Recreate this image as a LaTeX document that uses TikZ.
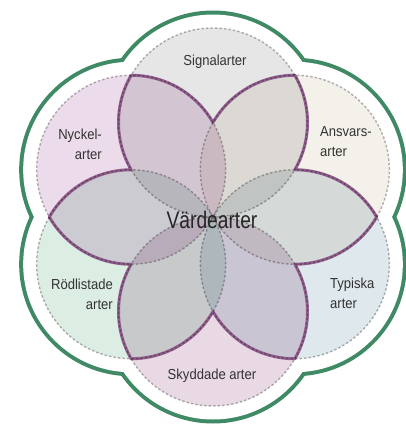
\documentclass[tikz,border=0pt]{standalone}
\usepackage{fontspec}
\setmainfont{Liberation Sans}[FakeStretch=0.9]
\newfontfamily\bigfont{Liberation Sans}[FakeStretch=0.8]
\definecolor{sigGray}{HTML}{E6E6E6}
\definecolor{ansBeige}{HTML}{F4F0EA}
\definecolor{typBlue}{HTML}{DFE8EC}
\definecolor{skyPink}{HTML}{E8D9E4}
\definecolor{rodMint}{HTML}{DCEDE4}
\definecolor{nycPink}{HTML}{ECDBEA}
\definecolor{rimGreen}{HTML}{3F8A65}
\definecolor{petalLine}{HTML}{93618F}
\definecolor{dashGray}{HTML}{B4B4B4}
\definecolor{txtGray}{HTML}{333333}
\begin{document}
\begin{tikzpicture}[x=1pt,y=1pt,
  ring/.style={dashGray, line width=1.4pt, dash pattern=on 2.5pt off 2pt, blend mode=multiply},
  lbl/.style={font=\fontsize{14.5}{20}\selectfont, text=txtGray, inner sep=0pt}]
  \def\d{94.5}
  \useasboundingbox (-213,-207) rectangle (193,217);
  \fill[white] (-213,-207) rectangle (193,217);
  % Green rim round the six circles
  \foreach \a in {90,30,...,-210} \fill[rimGreen] (\a:\d) circle (112);
  \foreach \a in {90,30,...,-210} \fill[white] (\a:\d) circle (108);
  % Six pale circles
  \foreach \a/\c in {90/sigGray,30/ansBeige,-30/typBlue,-90/skyPink,-150/rodMint,150/nycPink}
    \fill[\c, blend mode=multiply] (\a:\d) circle (\d);
  % Petal outline
  \draw[petalLine, line width=3pt, line join=round] (0:163.68)
    \foreach \a in {0,60,...,300} {
      arc[start angle=\a+30, end angle=\a+90, radius=\d]
      arc[start angle=\a-30, end angle=\a+30, radius=\d]
    } -- cycle;
  % Dashed circle outlines
  \foreach \a in {90,30,...,-210} \draw[ring] (\a:\d) circle (\d);
  % Labels
  \node[lbl] (signal) at (2,155) {Signalarter};
  \node[lbl, align=right, anchor=east] (nyckel) at (-111,73) {Nyckel-\\arter};
  \node[lbl, align=left, anchor=west] (ansvar) at (107,75) {Ansvars-\\arter};
  \node[lbl, align=right, anchor=east] (rodlist) at (-100,-77.5) {Rödlistade\\arter};
  \node[lbl, align=left, anchor=west] (typisk) at (117,-76.5) {Typiska\\arter};
  \node[lbl] (skydd) at (-1,-159) {Skyddade arter};
  \node[font=\bigfont\fontsize{24}{28}\selectfont, text=black!85, inner sep=0pt] (varde) at (-1,-3) {Värdearter};
\end{tikzpicture}
\end{document}
